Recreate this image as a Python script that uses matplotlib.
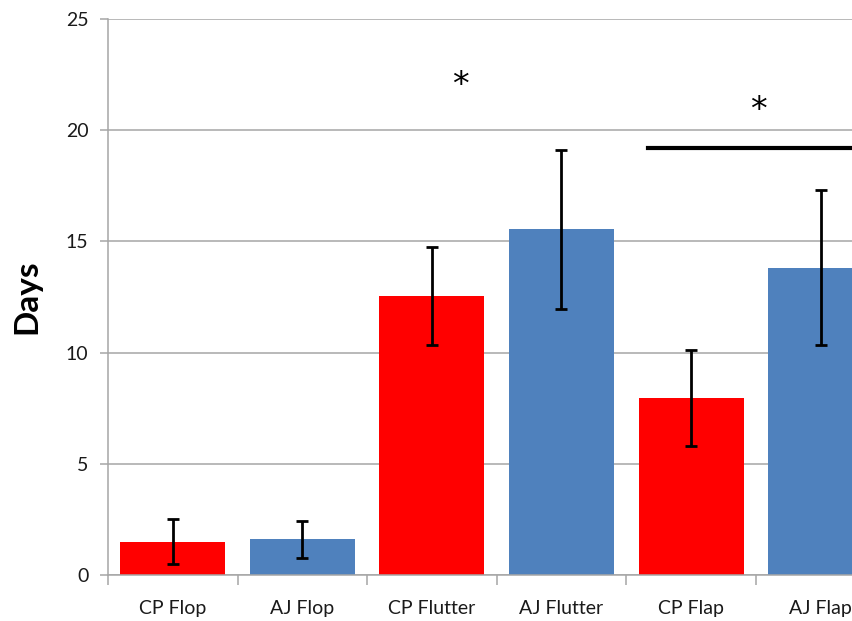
import matplotlib
matplotlib.use("Agg")
import matplotlib.pyplot as plt
import numpy as np

categories = ["CP Flop", "AJ Flop", "CP Flutter", "AJ Flutter", "CP Flap", "AJ Flap"]
means = [1.5, 1.6, 12.55, 15.55, 7.95, 13.82]
errors = [1.0, 0.83, 2.2, 3.58, 2.17, 3.48]
colors = ["#ff0000", "#4f81bd", "#ff0000", "#4f81bd", "#ff0000", "#4f81bd"]
y_ticks = [0, 5, 10, 15, 20, 25]

plt.rcParams["font.family"] = ["Lato", "DejaVu Sans"]

fig = plt.figure(figsize=(8.53, 6.21), dpi=100)
ax = fig.add_axes([108 / 853, 1 - 575 / 621, 1 - 108 / 853, (575 - 19) / 621])

x = np.arange(len(categories))
ax.bar(x, means, width=0.81, color=colors, zorder=2)
ax.errorbar(x, means, yerr=errors, fmt="none", ecolor="black",
            elinewidth=2, capsize=4, capthick=2, zorder=3)

ax.set_xlim(-0.5, 5.25)
ax.set_ylim(0, 25)
ax.set_yticks(y_ticks)
ax.yaxis.grid(True, color="#a6a6a6", linewidth=1.1, zorder=0)
ax.set_axisbelow(True)

ax.set_xticks(x)
ax.set_xticklabels(categories, fontsize=14, color="#1a1a1a")
ax.set_xticks(np.arange(-0.5, 5.5, 1.0), minor=True)
ax.tick_params(axis="x", which="major", length=0, pad=18)
ax.tick_params(axis="x", which="minor", length=7, color="#a6a6a6", width=1.1)
ax.tick_params(axis="y", length=6, color="#a6a6a6", width=1.1, labelsize=14,
               labelcolor="#1a1a1a", pad=8)

for side in ["top", "right"]:
    ax.spines[side].set_visible(False)
for side in ["left", "bottom"]:
    ax.spines[side].set_color("#a6a6a6")
    ax.spines[side].set_linewidth(1.1)

ax.set_ylabel("Days", fontsize=24, fontweight="bold", labelpad=18)

# significance markers
ax.text(2.22, 22.0, "*", fontsize=24, ha="center", va="center", family="DejaVu Sans")
ax.text(4.52, 20.9, "*", fontsize=24, ha="center", va="center", family="DejaVu Sans")
ax.plot([3.67, 5.25], [19.2, 19.2], color="black", linewidth=3, clip_on=False)

fig.savefig("out.png", dpi=100)
